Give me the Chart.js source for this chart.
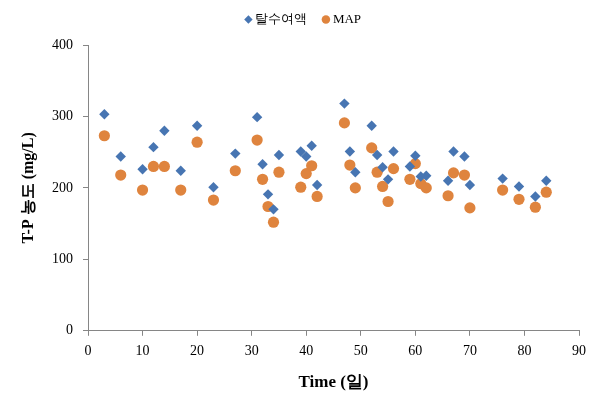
<!DOCTYPE html>
<html>
<head>
<meta charset="utf-8">
<script src="https://cdn.jsdelivr.net/npm/chart.js@4"></script>
<style>
  body { margin: 0; background: #fff; }
  #wrap { width: 606px; height: 408px; position: relative; }
</style>
</head>
<body>
<div id="wrap"><canvas id="myChart"></canvas></div>
<script>
// days
const days = [3, 6, 10, 12, 14, 17, 20, 23, 27, 31, 32, 33, 34, 35, 39, 40, 41, 42, 47, 48, 49,
    52, 53, 54, 55, 56, 59, 60, 61, 62, 66, 67, 69, 70, 76, 79, 82, 84];

// T-P (mg/L)
const talsu = [303, 244, 226, 257, 280, 224, 287, 201, 248, 299, 233, 191, 170, 246, 251, 244, 259, 204, 318, 251, 222,
    287, 246, 229, 212, 251, 230, 245, 216, 217, 210, 251, 244, 204, 213, 202, 188, 210];
const map = [273, 218, 197, 230, 230, 197, 264, 183, 224, 267, 212, 174, 152, 222, 201, 220, 231, 188, 291, 232, 200,
    256, 222, 202, 181, 227, 212, 234, 206, 200, 189, 221, 218, 172, 197, 184, 173, 194];

const xTicks = [0, 10, 20, 30, 40, 50, 60, 70, 80, 90];
const yTicks = [0, 100, 200, 300, 400];

const seriesNames = ['탈수여액', 'MAP'];

const toPoints = (xs, ys) => xs.map((x, i) => ({ x: x, y: ys[i] }));

const ctx = document.getElementById('myChart');
const axisColor = '#868686';
const tickFont = { family: 'Liberation Serif', size: 14 };

new Chart(ctx, {
    type: 'scatter',
    data: {
        datasets: [
            {
                label: seriesNames[0],
                data: toPoints(days, talsu),
                pointStyle: 'rectRot',
                pointRadius: 5.2,
                backgroundColor: '#4775B2',
                borderColor: '#4775B2',
                borderWidth: 0
            },
            {
                label: seriesNames[1],
                data: toPoints(days, map),
                pointStyle: 'circle',
                pointRadius: 5.6,
                backgroundColor: '#DF843E',
                borderColor: '#DF843E',
                borderWidth: 0
            }
        ]
    },
    options: {
        responsive: true,
        maintainAspectRatio: false,
        animation: false,
        layout: { padding: { left: 30, right: 27, top: -5, bottom: 10 } },
        plugins: {
            tooltip: { enabled: false },
            legend: {
                position: 'top',
                labels: {
                    usePointStyle: true,
                    boxWidth: 1,
                    boxHeight: 6,
                    padding: 18,
                    color: '#000',
                    font: { family: 'Liberation Serif', size: 13 }
                }
            },
            // empty spacer between legend and plot
            subtitle: {
                display: true,
                text: ' ',
                weight: 500,
                font: { size: 5 },
                padding: { top: 2.5, bottom: 0.5 }
            }
        },
        scales: {
            x: {
                type: 'linear',
                min: 0,
                max: 90,
                afterBuildTicks: s => { s.ticks = xTicks.map(v => ({ value: v })); },
                ticks: { color: '#000', font: tickFont, padding: 7, maxRotation: 0 },
                grid: { display: true, drawOnChartArea: false, color: axisColor, tickLength: 5 },
                border: { color: axisColor },
                title: {
                    display: true,
                    text: 'Time (일)',
                    color: '#000',
                    font: { family: 'Liberation Serif', size: 17, weight: 'bold' },
                    padding: { top: 6, bottom: 5 }
                }
            },
            y: {
                type: 'linear',
                min: 0,
                max: 400,
                afterBuildTicks: s => { s.ticks = yTicks.map(v => ({ value: v })); },
                afterFit: s => { s.width = 58; },
                ticks: { color: '#000', font: tickFont, padding: 10 },
                grid: { display: true, drawOnChartArea: false, color: axisColor, tickLength: 5 },
                border: { color: axisColor },
                title: {
                    display: true,
                    text: 'T-P 농도 (mg/L)',
                    color: '#000',
                    font: { family: 'Liberation Serif', size: 16, weight: 'bold' },
                    padding: { top: -11, bottom: 0 }
                }
            }
        }
    }
});
</script>
</body>
</html>
